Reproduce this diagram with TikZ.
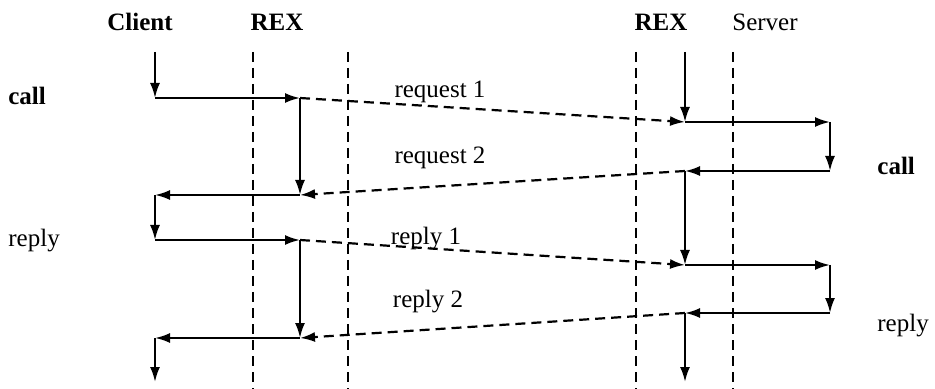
\documentclass[tikz,border=0pt]{standalone}
\usepackage{fontspec}
\setmainfont{Liberation Serif}
\usetikzlibrary{arrows.meta, positioning}

\begin{document}
\begin{tikzpicture}[
    x=0.5pt, y=-0.5pt,
    every node/.style={font=\fontsize{12.5}{14}\selectfont, inner sep=0pt},
    headlabel/.style={font=\fontsize{12.5}{14}\selectfont\bfseries},
    lanestyle/.style={line width=1.1pt, dash pattern=on 5pt off 3pt},
    flowarrow/.style={
        -{Latex[length=7.5pt, width=5pt]},
        line width=1.1pt
    },
    msgarrow/.style={flowarrow, dash pattern=on 5pt off 3pt}
]
    \useasboundingbox (0,0) rectangle (935,389);

    % ------------------- LANES (REX tratteggiate) -------------------
    \draw[lanestyle] (253,52) -- (253,389);
    \draw[lanestyle] (348,52) -- (348,389);
    \draw[lanestyle] (636,52) -- (636,389);
    \draw[lanestyle] (733,52) -- (733,389);

    % ------------------- INTESTAZIONI -------------------
    \node[headlabel] (hClient) at (140,22) {Client};
    \node[headlabel] (hRexL)   at (277,22) {REX};
    \node[headlabel] (hRexR)   at (661,22) {REX};
    \node (hServer) at (765,22) {Server};

    \node[headlabel, anchor=west] (tCallL)  at (8,96)   {call};
    \node[anchor=west] (tReplyL) at (8,241)  {reply};
    \node[headlabel, anchor=west] (tCallR)  at (877,166) {call};
    \node[anchor=west] (tReplyR) at (877,326) {reply};

    % ------------------- PUNTI (lato client) -------------------
    \coordinate (cTop) at (155,52);
    \coordinate (c1)   at (155,98);
    \coordinate (l1)   at (300,98);
    \coordinate (l4)   at (300,195);
    \coordinate (c4)   at (155,195);
    \coordinate (c5)   at (155,240);
    \coordinate (l5)   at (300,240);
    \coordinate (l8)   at (300,338);
    \coordinate (c8)   at (155,338);
    \coordinate (cBot) at (155,382);

    % ------------------- PUNTI (lato server) -------------------
    \coordinate (rTop) at (685,52);
    \coordinate (r2)   at (685,122);
    \coordinate (s2)   at (830,122);
    \coordinate (s3)   at (830,171);
    \coordinate (r3)   at (685,171);
    \coordinate (r6)   at (685,265);
    \coordinate (s6)   at (830,265);
    \coordinate (s7)   at (830,313);
    \coordinate (r7)   at (685,313);
    \coordinate (rBot) at (685,382);

    % --- Flusso client ---
    \draw[flowarrow] (cTop) -- (c1);
    \draw[flowarrow] (c1) -- (l1);
    \draw[flowarrow] (l1) -- (l4);
    \draw[flowarrow] (l4) -- (c4);
    \draw[flowarrow] (c4) -- (c5);
    \draw[flowarrow] (c5) -- (l5);
    \draw[flowarrow] (l5) -- (l8);
    \draw[flowarrow] (l8) -- (c8);
    \draw[flowarrow] (c8) -- (cBot);

    % --- Flusso server ---
    \draw[flowarrow] (rTop) -- (r2);
    \draw[flowarrow] (r2) -- (s2);
    \draw[flowarrow] (s2) -- (s3);
    \draw[flowarrow] (s3) -- (r3);
    \draw[flowarrow] (r3) -- (r6);
    \draw[flowarrow] (r6) -- (s6);
    \draw[flowarrow] (s6) -- (s7);
    \draw[flowarrow] (s7) -- (r7);
    \draw[flowarrow] (r7) -- (rBot);

    % --- Messaggi in rete ---
    \draw[msgarrow] (l1) -- (r2);
    \draw[msgarrow] (r3) -- (l4);
    \draw[msgarrow] (l5) -- (r6);
    \draw[msgarrow] (r7) -- (l8);

    \node (tReq1) at (440,92)  {request 1};
    \node (tReq2) at (440,158) {request 2};
    \node (tRep1) at (426,239) {reply 1};
    \node (tRep2) at (428,302) {reply 2};
\end{tikzpicture}
\end{document}
